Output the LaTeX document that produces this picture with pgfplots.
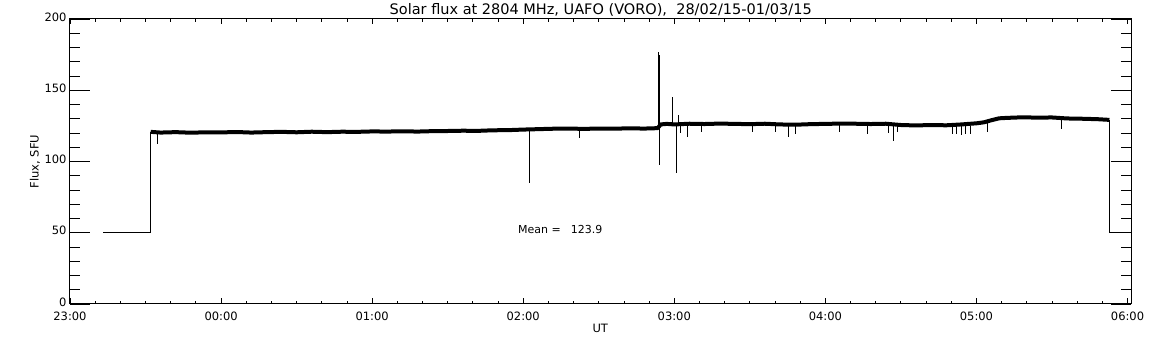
\documentclass[border=0pt]{standalone}
\usepackage{pgfplots}
\pgfplotsset{compat=1.18}
\usepackage{fontspec}
\setmainfont{DejaVu Sans}
\begin{document}
\begin{tikzpicture}
\path[use as bounding box] (-70pt,-41pt) rectangle (1082pt,304pt);
\pgfplotsset{
  base/.style={
    scale only axis, width=1061.5pt, height=285pt,
    xmin=0, xmax=7.026, ymin=0, ymax=200,
    tick align=inside, axis line style={line width=1pt, black},
    every tick/.style={black, line width=0.9pt},
    /pgf/number format/assume math mode=true,
    tick label style={font=\fontsize{11.5}{13}\selectfont},
    clip=false,
  }
}
% y-axis frame with long ticks
\begin{axis}[base,
  xtick=\empty,
  ytick={0,50,100,150,200},
  minor y tick num=4,
  major tick length=20pt, minor tick length=10pt,
  yticklabel style={yshift=2pt},
]
\end{axis}
% x-axis frame, data
\begin{axis}[base,
  ytick=\empty,
  xtick={0,1,2,3,4,5,6,7},
  xticklabels={23:00,00:00,01:00,02:00,03:00,04:00,05:00,06:00},
  xticklabel style={yshift=-4pt},
  minor x tick num=5,
  major tick length=5.5pt, minor tick length=3pt,
  unbounded coords=jump,
]
% thin start/end parts
\addplot[black, line width=1pt, mark=none] coordinates {
(0.219,50) (0.534,50) (0.534,120.6)
};
\addplot[black, line width=1pt, mark=none] coordinates {
(6.88,129.2) (6.88,50) (7.026,50)
};
% main noisy band
\addplot[black, line width=4pt, mark=none, line join=round] coordinates {
(0.534,120.8) (0.6,120.3) (0.7,120.6) (0.8,120.2) (0.9,120.5) (1.0,120.4)
(1.1,120.7) (1.2,120.3) (1.3,120.6) (1.4,120.8) (1.5,120.5) (1.6,120.9)
(1.7,120.6) (1.8,120.9) (1.9,120.8) (2.0,121.1) (2.1,121.0) (2.2,121.2)
(2.3,121.0) (2.4,121.3) (2.5,121.4) (2.6,121.6) (2.7,121.5) (2.8,121.9)
(2.9,122.0) (3.0,122.4) (3.1,122.7) (3.2,123.0) (3.3,123.1) (3.4,122.9)
(3.5,123.1) (3.6,123.0) (3.7,123.3) (3.8,123.1) (3.89,123.4) (3.91,126.0)
(3.95,126.4) (4.0,126.0) (4.1,126.5) (4.2,126.3) (4.3,126.6) (4.4,126.4)
(4.5,126.2) (4.6,126.5) (4.7,126.0) (4.8,125.8) (4.9,126.2) (5.0,126.4)
(5.1,126.6) (5.2,126.5) (5.3,126.3) (5.4,126.5) (5.5,125.6) (5.6,125.3)
(5.7,125.6) (5.8,125.4) (5.9,126.0) (6.0,126.8) (6.05,127.5) (6.1,129.0)
(6.15,130.3) (6.2,130.6) (6.3,131.0) (6.4,130.8) (6.5,130.9) (6.6,130.2)
(6.7,130.0) (6.8,129.7) (6.88,129.2)
};
% spikes and dips
\addplot[black, line width=0.9pt, mark=none] coordinates {
(0.576,120) (0.576,112) (0.577,nan)
(3.04,122) (3.04,85) (3.041,nan)
(3.37,122) (3.37,116.5) (3.371,nan)
(3.894,123) (3.894,177) (3.895,nan)
(3.904,123) (3.904,175) (3.905,nan)
(3.90,123) (3.90,97.5) (3.901,nan)
(3.987,126) (3.987,145) (3.988,nan)
(4.013,126) (4.013,92) (4.014,nan)
(4.026,126) (4.026,132.6) (4.027,nan)
(4.04,126) (4.04,120) (4.041,nan)
(4.086,126) (4.086,117) (4.087,nan)
(4.18,126) (4.18,121) (4.181,nan)
(4.52,126) (4.52,120.5) (4.521,nan)
(4.67,126) (4.67,120.5) (4.671,nan)
(4.755,126) (4.755,117) (4.756,nan)
(4.80,126) (4.80,119.5) (4.801,nan)
(5.09,126) (5.09,120.5) (5.091,nan)
(5.28,126) (5.28,119.5) (5.281,nan)
(5.45,126) (5.45,114.6) (5.451,nan)
(5.42,126) (5.42,120) (5.421,nan)
(5.48,126) (5.48,120.5) (5.481,nan)
(5.84,125) (5.84,119) (5.841,nan)
(5.87,125) (5.87,119.5) (5.871,nan)
(5.90,125) (5.90,118.6) (5.901,nan)
(5.93,125) (5.93,119) (5.931,nan)
(5.96,125) (5.96,119.5) (5.961,nan)
(6.07,127) (6.07,121) (6.071,nan)
(6.56,130) (6.56,122.8) (6.561,nan)
};
\node[anchor=base, font=\fontsize{14.5}{16}\selectfont] at (rel axis cs:0.5,1) [yshift=4.5pt] {Solar flux at 2804 MHz, UAFO (VORO),\ \ 28/02/15-01/03/15};
\node[font=\fontsize{11}{13}\selectfont] at (axis cs:3.245,52.6) {Mean =\hspace{10pt}123.9};
\node[font=\fontsize{11.5}{13}\selectfont] at (axis cs:3.51,-16.8) {UT};
\node[rotate=90, font=\fontsize{11.5}{13}\selectfont] at (axis cs:-0.232,100) {Flux, SFU};
\end{axis}
\end{tikzpicture}
\end{document}
